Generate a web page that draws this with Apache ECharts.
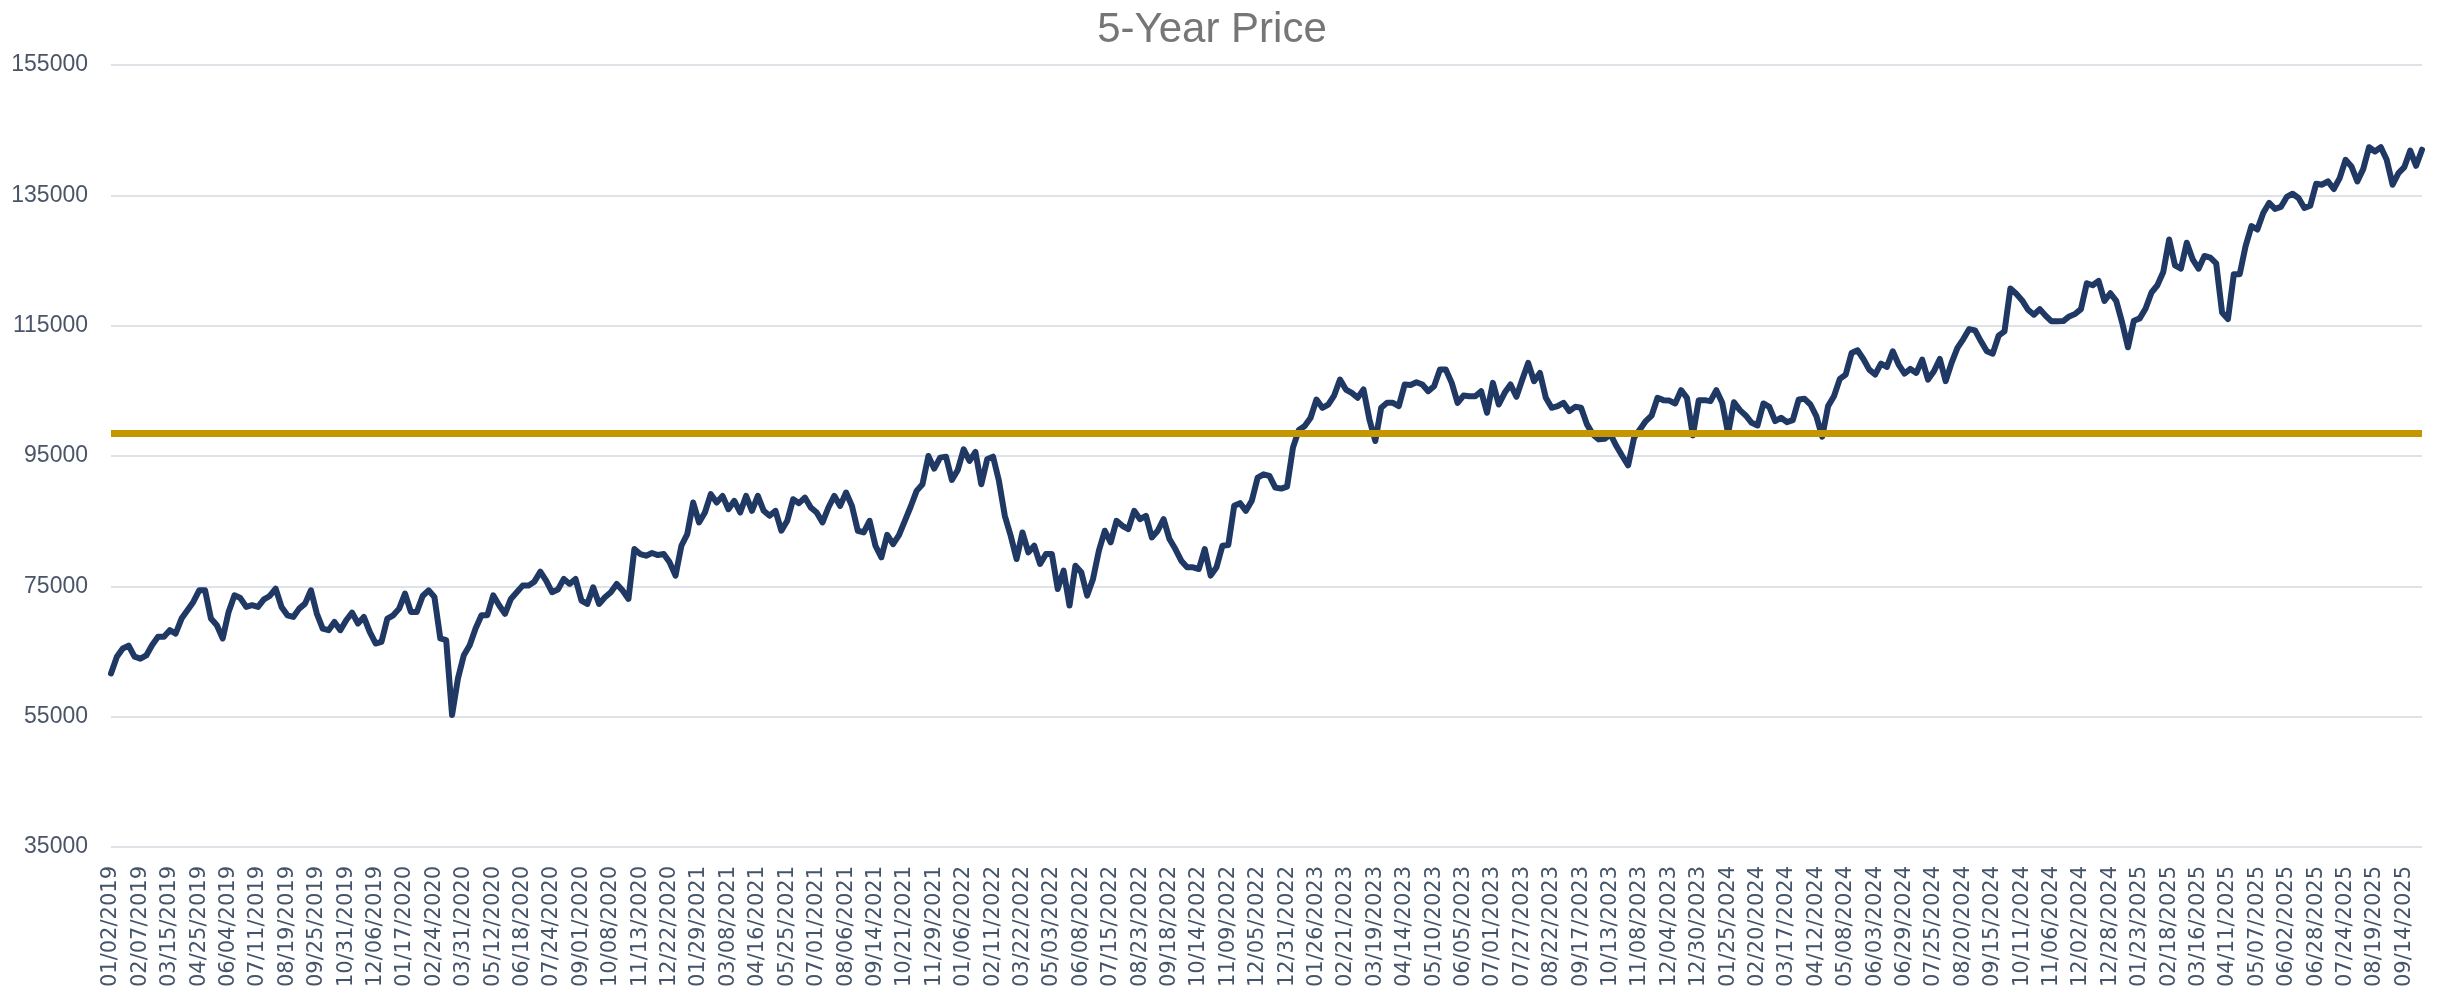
<!DOCTYPE html>
<html>
<head>
<meta charset="utf-8">
<title>5-Year Price</title>
<script src="https://cdn.jsdelivr.net/npm/echarts/dist/echarts.min.js"></script>
<style>
  html, body { margin: 0; padding: 0; background: #ffffff; }
  #chart { width: 2437px; height: 997px; }
</style>
</head>
<body>
<div id="chart"></div>
<script>
// Tick labels shown on the x axis (one every 5 sampled points)
const tickLabels = [
  '01/02/2019','02/07/2019','03/15/2019','04/25/2019','06/04/2019','07/11/2019','08/19/2019','09/25/2019','10/31/2019','12/06/2019',
  '01/17/2020','02/24/2020','03/31/2020','05/12/2020','06/18/2020','07/24/2020','09/01/2020','10/08/2020','11/13/2020','12/22/2020',
  '01/29/2021','03/08/2021','04/16/2021','05/25/2021','07/01/2021','08/06/2021','09/14/2021','10/21/2021','11/29/2021',
  '01/06/2022','02/11/2022','03/22/2022','05/03/2022','06/08/2022','07/15/2022','08/23/2022','09/18/2022','10/14/2022','11/09/2022','12/05/2022','12/31/2022',
  '01/26/2023','02/21/2023','03/19/2023','04/14/2023','05/10/2023','06/05/2023','07/01/2023','07/27/2023','08/22/2023','09/17/2023','10/13/2023','11/08/2023','12/04/2023','12/30/2023',
  '01/25/2024','02/20/2024','03/17/2024','04/12/2024','05/08/2024','06/03/2024','06/29/2024','07/25/2024','08/20/2024','09/15/2024','10/11/2024','11/06/2024','12/02/2024','12/28/2024',
  '01/23/2025','02/18/2025','03/16/2025','04/11/2025','05/07/2025','06/02/2025','06/28/2025','07/24/2025','08/19/2025','09/14/2025'
];

// Price values (5 samples per labelled interval)
const price = [
  61640, 64200, 65460, 65900, 64200,
  63900, 64400, 66000, 67250, 67250,
  68270, 67760, 70050, 71330, 72600,
  74390, 74390, 70050, 69030, 67000,
  71070, 73620, 73200, 71840, 72100,
  71840, 73000, 73520, 74640, 71840,
  70560, 70300, 71580, 72350, 74390,
  70820, 68520, 68270, 69540, 68270,
  69800, 70970, 69290, 70300, 68000,
  66230, 66480, 70050, 70560, 71580,
  73880, 71070, 71070, 73520, 74390,
  73370, 67000, 66740, 55260, 60870,
  64440, 65970, 68520, 70560, 70560,
  73620, 72100, 70780, 73070, 74090,
  75110, 75110, 75720, 77250, 75870,
  74090, 74500, 76130, 75360, 76130,
  72820, 72300, 74850, 72300, 73320,
  74090, 75360, 74350, 73070, 80720,
  79950, 79700, 80110, 79800, 79950,
  78680, 76640, 81230, 83020, 87860,
  84800, 86330, 89140, 87860, 88880,
  86840, 88120, 86330, 88880, 86590,
  88880, 86590, 85820, 86590, 83530,
  85060, 88370, 87760, 88620, 87100,
  86330, 84800, 87100, 88880, 87350,
  89390, 87350, 83530, 83270, 85060,
  81230, 79440, 82900, 81480, 82860,
  85050, 87250, 89650, 90670, 95000,
  93060, 94750, 94900, 91330, 92860,
  96020, 94240, 95610, 90670, 94490,
  94900, 91180, 85820, 82760, 79190,
  83270, 80210, 81230, 78430, 79950,
  79950, 74600, 77400, 72050, 78170,
  77150, 73580, 76130, 80470, 83530,
  81740, 85060, 84290, 83780, 86590,
  85310, 85820, 82500, 83530, 85310,
  82250, 80720, 78940, 77920, 77920,
  77660, 80720, 76640, 77920, 81230,
  81330, 87350, 87760, 86590, 88120,
  91690, 92190, 91940, 90160, 90000,
  90310, 96280, 98980, 99590, 100870,
  103670, 102400, 102900, 104280, 106730,
  105200, 104690, 103930, 105200, 100610,
  97300, 102400, 103160, 103160, 102650,
  105970, 105910, 106320, 105970, 104950,
  105710, 108260, 108260, 106220, 103160,
  104280, 104180, 104180, 104950, 101630,
  106220, 102900, 104690, 105970, 104080,
  106730, 109280, 106470, 107750, 103930,
  102400, 102650, 103160, 101880, 102550,
  102400, 99850, 98320, 97550, 97650,
  98320, 96530, 95000, 93570, 97800,
  99080, 100360, 101220, 103930, 103570,
  103500, 103060, 105100, 103930, 98160,
  103570, 103570, 103420, 105100, 103160,
  98470, 103260, 102040, 101220, 100100,
  99690, 103060, 102550, 100360, 100870,
  100200, 100510, 103670, 103770, 102900,
  101120, 97960, 102650, 104180, 106830,
  107500, 110810, 111220, 109890, 108260,
  107500, 109180, 108670, 111070, 109030,
  107650, 108360, 107750, 109790, 106730,
  108010, 109890, 106480, 109280, 111580,
  112950, 114480, 114280, 112600, 111070,
  110710, 113460, 114130, 120700, 119890,
  118870, 117440, 116680, 117540, 116520,
  115660, 115660, 115710, 116420, 116780,
  117540, 121510, 121200, 121870, 118810,
  119980, 118810, 115510, 111690, 115760,
  116120, 117640, 120090, 121200, 123240,
  128230, 124260, 123750, 127720, 125180,
  123750, 125690, 125430, 124570, 117030,
  116010, 122890, 122890, 127210, 130270,
  129760, 132300, 133830, 132910, 133220,
  134750, 135250, 134590, 133070, 133420,
  136780, 136630, 137140, 135970, 137650,
  140450, 139430, 137140, 139020, 142380,
  141720, 142380, 140450, 136630, 138410,
  139330, 141870, 139530, 142000
];

// Horizontal reference level
const referenceLevel = [98500];

// Y axis scale
const yMin = 35000, yMax = 155000, yStep = 20000;

const perTick = 5;
const categories = price.map((v, i) => (i % perTick === 0 ? (tickLabels[i / perTick] || '') : ''));

const chart = echarts.init(document.getElementById('chart'), null, { renderer: 'canvas' });
chart.setOption({
  animation: false,
  backgroundColor: '#ffffff',
  title: {
    text: '5-Year Price',
    left: 1207,
    textAlign: 'center',
    top: 4,
    textStyle: {
      fontFamily: 'Liberation Sans',
      fontSize: 42,
      fontWeight: 'normal',
      color: '#767676'
    }
  },
  grid: { left: 111, right: 15, top: 65, bottom: 150, containLabel: false },
  xAxis: {
    type: 'category',
    data: categories,
    boundaryGap: false,
    axisLine: { show: false },
    axisTick: { show: false },
    splitLine: { show: false },
    axisLabel: {
      interval: perTick - 1,
      rotate: 90,
      margin: 19,
      fontFamily: 'DejaVu Sans',
      fontSize: 21,
      color: '#44546A'
    }
  },
  yAxis: {
    type: 'value',
    min: yMin,
    max: yMax,
    interval: yStep,
    axisLine: { show: false },
    axisTick: { show: false },
    splitLine: { show: true, lineStyle: { color: '#dfe3e8', width: 2 } },
    axisLabel: {
      margin: 23,
      fontFamily: 'Liberation Sans',
      fontSize: 23,
      color: '#4a5568',
      formatter: v => String(v)
    }
  },
  series: [{
    type: 'line',
    data: price,
    showSymbol: false,
    symbol: 'none',
    smooth: false,
    lineStyle: { color: '#1F3864', width: 6, join: 'round', cap: 'round' },
    markLine: {
      silent: true,
      symbol: ['none', 'none'],
      label: { show: false },
      lineStyle: { color: '#C59600', width: 7, type: 'solid' },
      data: referenceLevel.map(v => ({ yAxis: v }))
    }
  }]
});
</script>
</body>
</html>
